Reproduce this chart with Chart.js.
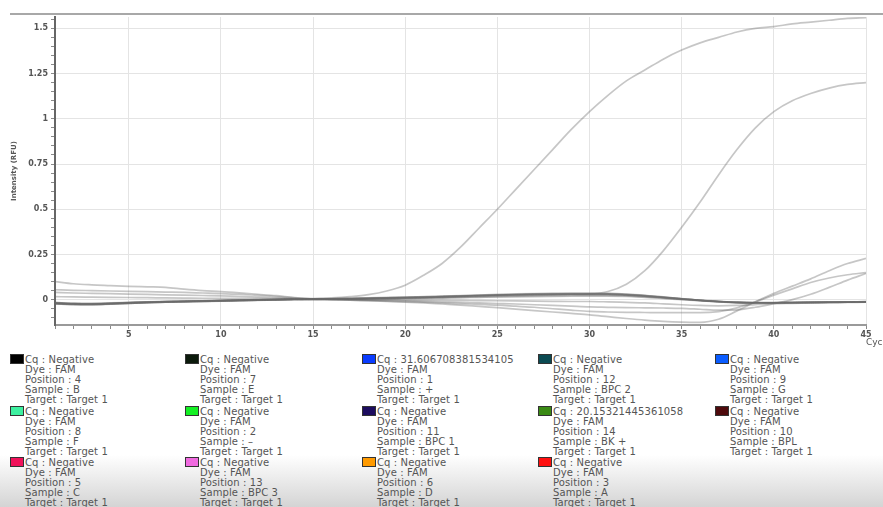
<!DOCTYPE html>
<html>
<head>
<meta charset="utf-8">
<script src="https://cdn.jsdelivr.net/npm/chart.js@4.4.0/dist/chart.umd.min.js"></script>
<style>
  html, body { margin:0; padding:0; width:883px; height:507px; overflow:hidden; background:#fff; font-family:"DejaVu Sans", sans-serif; }
  #wrap { position:relative; width:883px; height:507px; overflow:hidden; }
  #shade { position:absolute; left:0; top:455px; width:883px; height:52px; background:linear-gradient(#ffffff, #d4d4d4); }
  #chartBox { position:absolute; left:0; top:0; width:883px; height:350px; }
  #topRule { position:absolute; left:10px; top:13px; width:873px; height:2px; background:#a8a8a8; }
  #xTitle { position:absolute; left:866px; top:337px; font-size:9px; color:#555; white-space:nowrap; }
  .entry { position:absolute; }
  .swatch { position:absolute; left:0; top:0; width:12px; height:8px; border:1px solid #333; }
  .lines { position:absolute; left:15px; top:1px; font-size:10px; line-height:10px; color:#555; letter-spacing:0.1px; white-space:nowrap; }
</style>
</head>
<body>
<div id="wrap">
  <div id="shade"></div>
  <div id="chartBox"><canvas id="pcrChart"></canvas></div>
  <div id="topRule"></div>
  <div id="xTitle">Cycles</div>
  <div id="legend"></div>
</div>
<script>
// cycle numbers and axis labels
const cycles = [1,2,3,4,5,6,7,8,9,10,11,12,13,14,15,16,17,18,19,20,21,22,23,24,25,26,27,28,29,30,31,32,33,34,35,36,37,38,39,40,41,42,43,44,45];
const xMajorTicks = [5,10,15,20,25,30,35,40,45];
const yMajorTicks = [0,0.25,0.5,0.75,1,1.25,1.5];

// RFU per cycle, one array per well
const rfuPos4  = [-0.018,-0.022,-0.023,-0.020,-0.016,-0.013,-0.010,-0.008,-0.006,-0.004,-0.002,0.000,0.002,0.004,0.005,0.006,0.008,0.010,0.012,0.014,0.017,0.020,0.023,0.026,0.029,0.032,0.034,0.035,0.036,0.036,0.035,0.031,0.024,0.015,0.006,-0.003,-0.010,-0.015,-0.017,-0.017,-0.016,-0.015,-0.014,-0.013,-0.012];
const rfuPos7  = [-0.020,-0.024,-0.025,-0.022,-0.018,-0.015,-0.012,-0.010,-0.008,-0.006,-0.004,-0.002,0.000,0.002,0.003,0.004,0.005,0.006,0.008,0.010,0.012,0.015,0.018,0.021,0.024,0.026,0.028,0.029,0.030,0.030,0.030,0.026,0.020,0.012,0.004,-0.004,-0.010,-0.015,-0.017,-0.017,-0.016,-0.015,-0.014,-0.013,-0.012];
const rfuPos1  = [-0.018,-0.022,-0.023,-0.021,-0.017,-0.014,-0.011,-0.009,-0.007,-0.005,-0.003,-0.001,0.001,0.003,0.004,0.005,0.006,0.008,0.010,0.012,0.014,0.017,0.020,0.023,0.025,0.027,0.028,0.029,0.030,0.032,0.045,0.085,0.160,0.270,0.400,0.540,0.690,0.830,0.950,1.040,1.100,1.140,1.170,1.190,1.200];
const rfuPos12 = [-0.022,-0.026,-0.027,-0.024,-0.020,-0.017,-0.014,-0.011,-0.009,-0.007,-0.005,-0.003,-0.001,0.001,0.002,0.003,0.004,0.005,0.006,0.007,0.009,0.011,0.013,0.015,0.017,0.019,0.021,0.022,0.023,0.024,0.024,0.021,0.016,0.009,0.002,-0.005,-0.011,-0.016,-0.018,-0.018,-0.017,-0.016,-0.015,-0.014,-0.013];
const rfuPos9  = [0.100,0.088,0.082,0.078,0.074,0.071,0.068,0.058,0.050,0.045,0.038,0.030,0.022,0.012,0.005,0.002,0.000,-0.001,-0.001,-0.002,-0.002,-0.003,-0.004,-0.005,-0.006,-0.007,-0.008,-0.009,-0.010,-0.010,-0.012,-0.015,-0.018,-0.023,-0.028,-0.032,-0.034,-0.032,-0.027,-0.022,-0.020,-0.018,-0.016,-0.015,-0.014];
const rfuPos8  = [0.055,0.052,0.050,0.048,0.046,0.044,0.042,0.040,0.037,0.034,0.030,0.024,0.017,0.010,0.004,0.002,0.000,-0.002,-0.004,-0.006,-0.009,-0.012,-0.015,-0.018,-0.021,-0.024,-0.028,-0.032,-0.036,-0.040,-0.042,-0.044,-0.045,-0.046,-0.048,-0.053,-0.058,-0.056,-0.042,-0.022,0.000,0.030,0.068,0.108,0.145];
const rfuPos2  = [-0.016,-0.020,-0.021,-0.019,-0.016,-0.013,-0.011,-0.009,-0.007,-0.005,-0.003,-0.001,0.001,0.003,0.004,0.005,0.007,0.009,0.011,0.013,0.015,0.018,0.021,0.024,0.027,0.030,0.032,0.033,0.034,0.034,0.033,0.029,0.022,0.013,0.004,-0.004,-0.011,-0.016,-0.018,-0.018,-0.017,-0.016,-0.015,-0.014,-0.013];
const rfuPos11 = [-0.024,-0.027,-0.028,-0.025,-0.021,-0.017,-0.014,-0.012,-0.010,-0.008,-0.006,-0.004,-0.002,0.000,0.002,0.003,0.004,0.005,0.006,0.008,0.010,0.013,0.016,0.019,0.022,0.024,0.026,0.027,0.028,0.028,0.028,0.025,0.019,0.011,0.003,-0.005,-0.011,-0.015,-0.016,-0.016,-0.015,-0.014,-0.013,-0.012,-0.011];
const rfuPos14 = [-0.015,-0.020,-0.020,-0.018,-0.015,-0.012,-0.010,-0.008,-0.006,-0.004,-0.002,0.000,0.002,0.004,0.006,0.010,0.017,0.028,0.048,0.080,0.135,0.200,0.290,0.395,0.500,0.610,0.720,0.830,0.940,1.040,1.130,1.210,1.270,1.330,1.380,1.420,1.450,1.480,1.500,1.510,1.525,1.535,1.545,1.555,1.560];
const rfuPos10 = [-0.019,-0.023,-0.024,-0.021,-0.017,-0.014,-0.011,-0.009,-0.007,-0.005,-0.003,-0.001,0.001,0.003,0.004,0.005,0.006,0.008,0.010,0.012,0.014,0.017,0.020,0.023,0.026,0.028,0.030,0.031,0.032,0.032,0.032,0.028,0.022,0.014,0.005,-0.003,-0.009,-0.014,-0.016,-0.016,-0.015,-0.014,-0.013,-0.012,-0.011];
const rfuPos5  = [0.040,0.037,0.035,0.033,0.031,0.029,0.027,0.025,0.023,0.021,0.018,0.014,0.010,0.006,0.002,0.000,-0.002,-0.005,-0.008,-0.011,-0.014,-0.018,-0.022,-0.026,-0.030,-0.036,-0.042,-0.050,-0.058,-0.065,-0.068,-0.070,-0.071,-0.072,-0.072,-0.072,-0.066,-0.045,-0.012,0.025,0.060,0.095,0.120,0.138,0.150];
const rfuPos13 = [-0.021,-0.025,-0.026,-0.023,-0.019,-0.016,-0.013,-0.011,-0.009,-0.007,-0.005,-0.003,-0.001,0.001,0.002,0.003,0.003,0.004,0.005,0.006,0.007,0.009,0.011,0.013,0.015,0.016,0.017,0.018,0.019,0.020,0.020,0.018,0.013,0.007,0.000,-0.006,-0.012,-0.016,-0.018,-0.018,-0.017,-0.016,-0.015,-0.014,-0.013];
const rfuPos6  = [0.017,0.015,0.014,0.013,0.012,0.011,0.010,0.009,0.008,0.008,0.007,0.006,0.005,0.003,0.001,-0.001,-0.003,-0.006,-0.009,-0.013,-0.018,-0.024,-0.030,-0.037,-0.044,-0.052,-0.060,-0.068,-0.076,-0.084,-0.094,-0.104,-0.113,-0.120,-0.124,-0.125,-0.108,-0.062,-0.012,0.035,0.075,0.115,0.160,0.200,0.228];
const rfuPos3  = [-0.023,-0.026,-0.027,-0.024,-0.020,-0.016,-0.013,-0.011,-0.009,-0.007,-0.005,-0.003,-0.001,0.001,0.003,0.004,0.005,0.007,0.009,0.011,0.013,0.016,0.019,0.022,0.025,0.027,0.029,0.030,0.031,0.031,0.031,0.027,0.021,0.013,0.005,-0.003,-0.010,-0.015,-0.017,-0.017,-0.016,-0.015,-0.014,-0.013,-0.012];

// legend entries, row by row as in the report
const wellPositions = [4,7,1,12,9, 8,2,11,14,10, 5,13,6,3];
const wellSamples = ['B','E','+','BPC 2','G', 'F','\u2013','BPC 1','BK +','BPL', 'C','BPC 3','D','A'];
const wellCq = ['Negative','Negative','31.606708381534105','Negative','Negative',
                'Negative','Negative','Negative','20.15321445361058','Negative',
                'Negative','Negative','Negative','Negative'];
const wellColors = ['#000000','#0b1a0b','#0a3cff','#0b4a52','#0a5cff',
                    '#3df0a0','#14f024','#1c0c5e','#3a8a14','#4e0a0c',
                    '#f0125a','#f06ae0','#ff9a00','#ff1010'];
const wellSeries = [rfuPos4,rfuPos7,rfuPos1,rfuPos12,rfuPos9, rfuPos8,rfuPos2,rfuPos11,rfuPos14,rfuPos10, rfuPos5,rfuPos13,rfuPos6,rfuPos3];

const legendCols = [10,185,362,538,715];
const legendRows = [354,406,457];

const legend = document.getElementById('legend');
wellPositions.forEach((pos, i) => {
  const col = i % 5, row = Math.floor(i / 5);
  const el = document.createElement('div');
  el.className = 'entry';
  el.style.left = legendCols[col] + 'px';
  el.style.top = legendRows[row] + 'px';
  el.innerHTML = `
    <div class="swatch" style="background:${wellColors[i]}"></div>
    <div class="lines">Cq : ${wellCq[i]}<br>Dye : FAM<br>Position : ${pos}<br>Sample : ${wellSamples[i]}<br>Target : Target 1</div>`;
  legend.appendChild(el);
});

const isMajor = (list, v) => list.find(m => Math.abs(m - v) < 1e-6);

new Chart(document.getElementById('pcrChart'), {
  type: 'line',
  data: {
    datasets: wellSeries.map((vals, i) => ({
      label: 'Position ' + wellPositions[i],
      data: vals.map((v, k) => ({ x: cycles[k], y: v })),
      borderColor: 'rgba(105,105,105,0.38)',
      borderWidth: 1.7,
      pointRadius: 0,
      cubicInterpolationMode: 'monotone',
      fill: false
    }))
  },
  options: {
    responsive: true,
    maintainAspectRatio: false,
    animation: false,
    layout: { padding: { top: 17, right: 17, left: 0, bottom: 0 } },
    plugins: { legend: { display: false }, tooltip: { enabled: false } },
    scales: {
      x: {
        type: 'linear',
        min: 1,
        max: 45,
        afterBuildTicks: (scale) => { scale.ticks = cycles.map(v => ({ value: v })); },
        afterFit: (scale) => { scale.height = 25; },
        ticks: {
          autoSkip: false,
          maxRotation: 0,
          padding: 1,
          color: '#555',
          font: { family: 'DejaVu Sans', size: 8, weight: 'bold' },
          callback: (v) => { const m = isMajor(xMajorTicks, v); return m === undefined ? '' : String(m); }
        },
        grid: {
          color: (ctx) => ctx.tick && isMajor(xMajorTicks, ctx.tick.value) !== undefined ? '#e4e4e4' : 'rgba(0,0,0,0)',
          tickColor: '#8a8a8a',
          tickLength: 4
        },
        border: { color: '#9a9a9a', width: 2 }
      },
      y: {
        min: -0.14,
        max: 1.563,
        afterFit: (scale) => { scale.width = 55; },
        ticks: {
          stepSize: 0.05,
          includeBounds: false,
          autoSkip: false,
          padding: 3,
          color: '#555',
          font: { family: 'DejaVu Sans', size: 8, weight: 'bold' },
          callback: (v) => { const m = isMajor(yMajorTicks, v); return m === undefined ? '' : String(m); }
        },
        grid: {
          color: (ctx) => ctx.tick && isMajor(yMajorTicks, ctx.tick.value) !== undefined ? '#e4e4e4' : 'rgba(0,0,0,0)',
          tickColor: '#8a8a8a',
          tickLength: 4
        },
        border: { color: '#666', width: 2 },
        title: {
          display: true,
          text: 'Intensity (RFU)',
          color: '#555',
          font: { family: 'DejaVu Sans', size: 7, weight: 'bold' },
          padding: { top: 10, bottom: 0 }
        }
      }
    }
  }
});
</script>
</body>
</html>
